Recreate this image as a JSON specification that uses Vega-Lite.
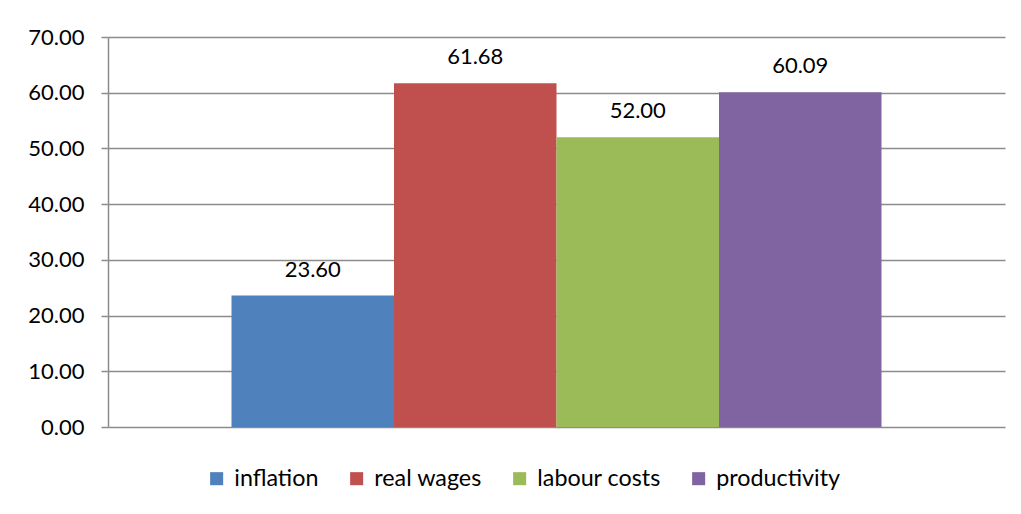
{
  "$schema": "https://vega.github.io/schema/vega-lite/v6.json",
  "width": 897,
  "height": 390,
  "autosize": {"type": "none"},
  "padding": {"left": 108, "top": 37, "right": 16, "bottom": 87},
  "background": "white",
  "config": {
    "font": "Lato",
    "view": {"stroke": null},
    "axis": {"labelFont": "Lato", "labelColor": "#000000"}
  },
  "data": {
    "values": [
      {"series": "inflation", "value": 23.60},
      {"series": "real wages", "value": 61.68},
      {"series": "labour costs", "value": 52.00},
      {"series": "productivity", "value": 60.09}
    ]
  },
  "encoding": {
    "x": {
      "field": "series",
      "type": "nominal",
      "sort": ["inflation", "real wages", "labour costs", "productivity"],
      "scale": {"paddingInner": 0, "paddingOuter": 0.76},
      "axis": null
    },
    "y": {
      "field": "value",
      "type": "quantitative",
      "scale": {"domain": [0, 70], "nice": false},
      "axis": {
        "title": null,
        "values": [0, 10, 20, 30, 40, 50, 60, 70],
        "format": ".2f",
        "labelFontSize": 22,
        "labelPadding": 17,
        "tickSize": 7,
        "tickColor": "#8c8c8c",
        "tickWidth": 1.5,
        "domainColor": "#8c8c8c",
        "domainWidth": 1.5,
        "gridColor": "#8c8c8c",
        "gridWidth": 1.5
      }
    }
  },
  "layer": [
    {
      "mark": {"type": "bar"},
      "encoding": {
        "color": {
          "field": "series",
          "type": "nominal",
          "sort": ["inflation", "real wages", "labour costs", "productivity"],
          "scale": {
            "domain": ["inflation", "real wages", "labour costs", "productivity"],
            "range": ["#4F81BD", "#C0504D", "#9BBB59", "#8064A2"]
          },
          "legend": {
            "title": null,
            "orient": "none",
            "direction": "horizontal",
            "legendX": 97,
            "legendY": 430,
            "symbolType": "square",
            "symbolSize": 170,
            "symbolStrokeWidth": 0,
            "labelFontSize": 23.3,
            "labelFont": "Lato",
            "labelColor": "#000000",
            "labelOffset": 6,
            "columnPadding": 26
          }
        }
      }
    },
    {
      "mark": {"type": "text", "baseline": "bottom", "dy": -14, "fontSize": 22, "font": "Lato", "color": "#000000"},
      "encoding": {
        "text": {"field": "value", "type": "quantitative", "format": ".2f"}
      }
    }
  ]
}
